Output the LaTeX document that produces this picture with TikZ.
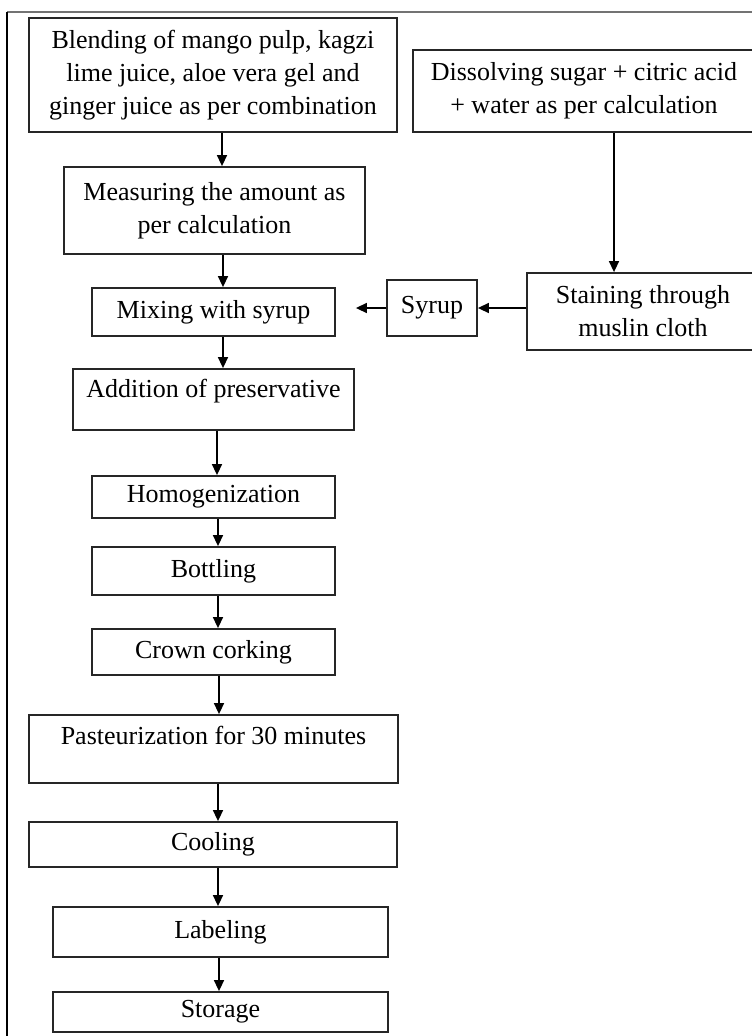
\documentclass[tikz,border=0pt]{standalone}
\usepackage{fontspec}
\setmainfont{Liberation Serif}
\usetikzlibrary{arrows.meta}
\begin{document}
\begin{tikzpicture}[x=1pt,y=-1pt,
  txt/.style={font=\fontsize{26}{33}\selectfont},
  box/.style={draw=black!85, line width=1.8pt, inner sep=0pt, align=center, txt},
  arr/.style={line width=1.5pt, -{Triangle[length=11pt,width=10pt]}},
  frame/.style={line width=1.5pt}]
\useasboundingbox (0,0) rectangle (752,1036);
\clip (0,0) rectangle (752,1036);
% frame
\coordinate (fo) at (7,12);
\coordinate (ftr) at (752,12);
\coordinate (fbl) at (7,1036);
\draw[frame, black!55] (fo) -- (ftr);
\draw[frame, black] (fo) -- (fbl);
% boxes
\node[box, minimum width=368pt, minimum height=114pt] (blend) at (213,75)
  {Blending of mango pulp, kagzi\\lime juice, aloe vera gel and\\ginger juice as per combination};
\node[box, minimum width=301pt, minimum height=87pt] (measure) at (214.5,210.5)
  {Measuring the amount as\\per calculation};
\node[box, minimum width=342pt, minimum height=82pt] (dissolve) at (584,91)
  {Dissolving sugar + citric acid\\+ water as per calculation};
\node[box, minimum width=232pt, minimum height=77pt] (stain) at (643,311.5)
  {Staining through\\muslin cloth};
\node[box, minimum width=90pt, minimum height=56pt] (syrup) at (432,308) {Syrup};
\node[box, minimum width=243pt, minimum height=48pt] (mixing) at (213.5,312) {Mixing with syrup};
\node[box, minimum width=281pt, minimum height=61pt,
  label={[txt, yshift=8pt]center:Addition of preservative}] (addition) at (213.5,399.5) {};
\node[box, minimum width=243pt, minimum height=42pt] (homog) at (213.5,497) {Homogenization};
\node[box, minimum width=243pt, minimum height=48pt] (bottling) at (213.5,571) {Bottling};
\node[box, minimum width=243pt, minimum height=46pt] (crown) at (213.5,652) {Crown corking};
\node[box, minimum width=369pt, minimum height=68pt,
  label={[txt, yshift=14pt]center:Pasteurization for 30 minutes}] (past) at (213.5,749) {};
\node[box, minimum width=368pt, minimum height=45pt] (cooling) at (213,844.5) {Cooling};
\node[box, minimum width=335pt, minimum height=50pt] (labeling) at (220.5,932) {Labeling};
\node[box, minimum width=335pt, minimum height=40pt] (storage) at (220.5,1012) {Storage};
% arrow columns
\coordinate (xa) at (222,0);
\coordinate (xb) at (223,0);
\coordinate (xc) at (217,0);
\coordinate (xd) at (218,0);
\coordinate (xe) at (219,0);
\coordinate (xs) at (614,0);
% arrows
\draw[arr] (blend.south -| xa) -- (measure.north -| xa);
\draw[arr] (measure.south -| xb) -- (mixing.north -| xb);
\draw[arr] (mixing.south -| xb) -- (addition.north -| xb);
\draw[arr] (addition.south -| xc) -- (homog.north -| xc);
\draw[arr] (homog.south -| xd) -- (bottling.north -| xd);
\draw[arr] (bottling.south -| xd) -- (crown.north -| xd);
\draw[arr] (crown.south -| xe) -- (past.north -| xe);
\draw[arr] (past.south -| xd) -- (cooling.north -| xd);
\draw[arr] (cooling.south -| xd) -- (labeling.north -| xd);
\draw[arr] (labeling.south -| xe) -- (storage.north -| xe);
\draw[arr] (dissolve.south -| xs) -- (stain.north -| xs);
\draw[arr] (stain.west |- syrup.east) -- (syrup.east);
\draw[arr, shorten >=20pt] (syrup.west) -- (mixing.east |- syrup.west);
\end{tikzpicture}
\end{document}
